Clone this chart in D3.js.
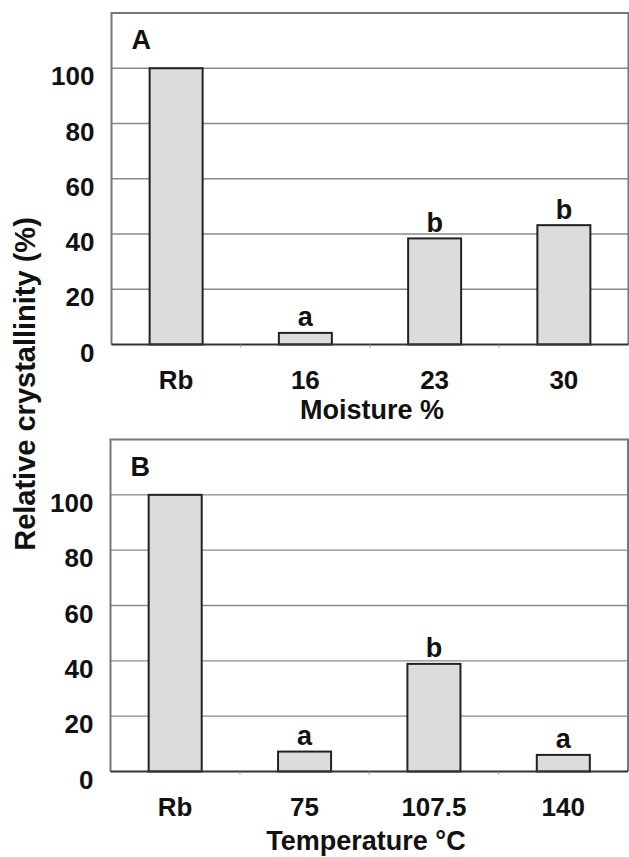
<!DOCTYPE html>
<html>
<head>
<meta charset="utf-8">
<script src="https://cdn.jsdelivr.net/npm/d3@7"></script>
<style>
  html, body { margin: 0; padding: 0; background: #fff; }
  svg { display: block; }
  text { font-family: "Liberation Sans", Arial, sans-serif; font-weight: bold; fill: #111; }
</style>
</head>
<body>
<svg id="chart" width="629" height="857"></svg>
<script>
// Panel A: moisture series
const moistureCats = ["Rb", "16", "23", "30"];
const moistureVals = [100, 4.2, 38.4, 43.2];
const moistureSig  = ["", "a", "b", "b"];

// Panel B: temperature series
const tempCats = ["Rb", "75", "107.5", "140"];
const tempVals = [100, 7.2, 38.9, 6.0];
const tempSig  = ["", "a", "b", "a"];

const yTicks = [0, 20, 40, 60, 80, 100];

const svg = d3.select("#chart");

function panel(opts) {
  const { cats, vals, sig, letter, xTitle, left, right, bottom, top, titleX, titleY } = opts;
  const g = svg.append("g");

  const x = d3.scaleBand().domain(cats).range([left, right])
    .paddingInner(0.59).paddingOuter(0.295);
  const y = d3.scaleLinear().domain([0, 120]).range([bottom, top]);

  // horizontal gridlines
  g.append("g").selectAll("line").data(yTicks.filter(d => d > 0)).join("line")
    .attr("x1", left).attr("x2", right)
    .attr("y1", d => y(d)).attr("y2", d => y(d))
    .attr("stroke", "#8a8a8a").attr("stroke-width", 1.3);

  // plot frame (left, top, right)
  g.append("path")
    .attr("d", `M${left},${bottom} V${y(120)} H${right} V${bottom}`)
    .attr("fill", "none").attr("stroke", "#777").attr("stroke-width", 2);

  // bars
  g.append("g").selectAll("rect").data(vals).join("rect")
    .attr("x", (d, i) => x(cats[i]))
    .attr("y", d => y(d))
    .attr("width", x.bandwidth())
    .attr("height", d => y(0) - y(d))
    .attr("fill", "#dcdcdc").attr("stroke", "#222").attr("stroke-width", 2);

  // zero axis line
  g.append("line")
    .attr("x1", left).attr("x2", right)
    .attr("y1", y(0)).attr("y2", y(0))
    .attr("stroke", "#333").attr("stroke-width", 2.2);

  // small category boundary ticks
  const step = x.step();
  g.append("g").selectAll("line").data(d3.range(1, cats.length)).join("line")
    .attr("x1", i => left + i * step).attr("x2", i => left + i * step)
    .attr("y1", y(0)).attr("y2", y(0) + 3)
    .attr("stroke", "#999").attr("stroke-width", 1);

  // y tick labels
  g.append("g").selectAll("text").data(yTicks).join("text")
    .attr("x", left - 17).attr("y", d => y(d) + 17)
    .attr("text-anchor", "end").attr("font-size", 26)
    .text(d => d);

  // x tick labels
  g.append("g").selectAll("text").data(cats).join("text")
    .attr("x", d => x(d) + x.bandwidth() / 2).attr("y", y(0) + 44)
    .attr("text-anchor", "middle").attr("font-size", 26)
    .text(d => d);

  // significance letters
  g.append("g").selectAll("text").data(vals).join("text")
    .attr("x", (d, i) => x(cats[i]) + x.bandwidth() / 2)
    .attr("y", d => y(d) - 6.5)
    .attr("text-anchor", "middle").attr("font-size", 27)
    .text((d, i) => sig[i]);

  // panel letter
  g.append("text").attr("x", left + 20).attr("y", y(120) + 36)
    .attr("font-size", 27).text(letter);

  // x axis title
  g.append("text").attr("x", titleX).attr("y", titleY)
    .attr("text-anchor", "middle").attr("font-size", 27)
    .text(xTitle);
}

panel({ cats: moistureCats, vals: moistureVals, sig: moistureSig, letter: "A",
  xTitle: "Moisture %", left: 111.5, right: 628.5, bottom: 344.5, top: 13,
  titleX: 372, titleY: 419 });

panel({ cats: tempCats, vals: tempVals, sig: tempSig, letter: "B",
  xTitle: "Temperature °C", left: 110.5, right: 628, bottom: 771.5, top: 439.5,
  titleX: 366, titleY: 850 });

// shared y axis title
svg.append("text")
  .attr("transform", "translate(35,384) rotate(-90)")
  .attr("text-anchor", "middle").attr("font-size", 29)
  .text("Relative crystallinity (%)");
</script>
</body>
</html>
